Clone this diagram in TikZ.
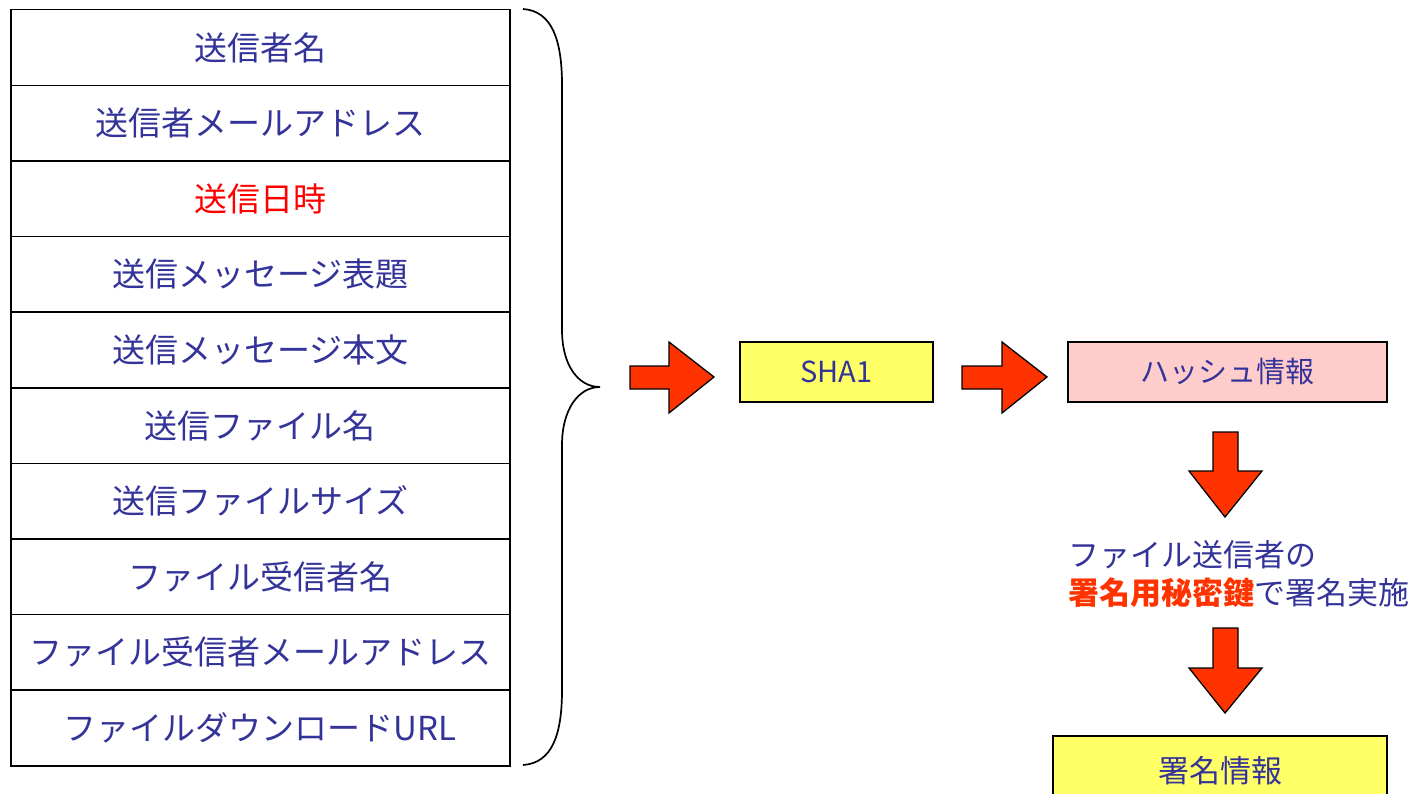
\documentclass[tikz,border=0pt]{standalone}
\usepackage{fontspec}
\newfontfamily\jp{Noto Sans CJK JP}
\usetikzlibrary{calc}
\definecolor{txtblue}{HTML}{333399}
\definecolor{arrred}{HTML}{FF3300}
\definecolor{boxyellow}{HTML}{FFFF66}
\definecolor{boxpink}{HTML}{FFCCCC}
\tikzset{
  cell/.style={draw=black, line width=1.5pt, minimum width=499pt, minimum height=75.6pt, inner sep=0pt, anchor=north west, font=\jp\fontsize{33}{38}\selectfont, text=txtblue},
  procbox/.style={draw=black, line width=1.5pt, inner sep=0pt, font=\jp\fontsize{29}{34}\selectfont, text=txtblue},
  fatarrow/.style={fill=arrred, draw=black, line width=1.3pt, line join=miter},
  note/.style={anchor=west, inner sep=0pt, font=\jp\fontsize{31}{35}\selectfont, text=txtblue}
}
\begin{document}
\begin{tikzpicture}[x=1pt,y=-1pt]
\useasboundingbox (0,0) rectangle (1420,794);
% table
\foreach \i/\t in {0/送信者名,1/送信者メールアドレス,2/{\textcolor{red}{送信日時}},3/送信メッセージ表題,4/送信メッセージ本文,5/送信ファイル名,6/送信ファイルサイズ,7/ファイル受信者名,8/ファイル受信者メールアドレス,9/ファイルダウンロードURL}{
  \node[cell] (r\i) at (10,{9+75.6*\i}) {\t};
}
% brace
\coordinate (btop) at (523,9);
\coordinate (bbot) at (523,765);
\coordinate (btip) at (600,387);
\draw[line width=1.7pt] (btop) .. controls (552,11) and (562,40) .. (562,85) -- (562,330)
  .. controls (562,365) and (578,387) .. (btip)
  .. controls (578,387) and (562,410) .. (562,445) -- (562,690)
  .. controls (562,735) and (552,763) .. (bbot);
% boxes
\node[procbox, fill=boxyellow, minimum width=193pt, minimum height=60pt] (sha) at (836.5,372) {SHA1};
\node[procbox, fill=boxpink, minimum width=319pt, minimum height=60pt] (hash) at (1227.5,372) {ハッシュ情報};
\node[procbox, fill=boxyellow, minimum width=334pt, minimum height=70pt, anchor=north, font=\jp\fontsize{31}{36}\selectfont] (sig) at (1220,735) {署名情報};
% notes
\node[note] (n1) at (1068,555) {ファイル送信者の};
\node[note] (n2) at (1068,593) {\textcolor{arrred}{\bfseries 署名用秘密鍵}で署名実施};
% right arrows
\draw[fatarrow] (630,366) -- (669,366) -- (669,342) -- (714,377) -- (669,413) -- (669,389) -- (630,389) -- cycle;
\draw[fatarrow] (962,366) -- (1002,366) -- (1002,342) -- (1047,377) -- (1002,413) -- (1002,389) -- (962,389) -- cycle;
% down arrows
\draw[fatarrow] (1213,432) -- (1238,432) -- (1238,471) -- (1262,471) -- (1225,517) -- (1189,471) -- (1213,471) -- cycle;
\draw[fatarrow] (1213,628) -- (1238,628) -- (1238,668) -- (1262,668) -- (1225,713) -- (1189,668) -- (1213,668) -- cycle;
\end{tikzpicture}
\end{document}
